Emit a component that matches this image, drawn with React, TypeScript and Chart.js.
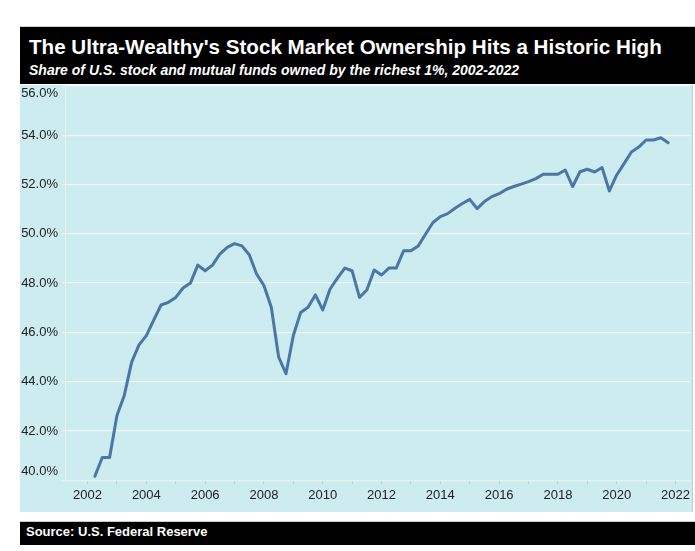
import React, { useEffect, useRef } from "react";
import { Chart, registerables } from "chart.js";

Chart.register(...registerables);

// ---- data ----
const firstQuarter = 2002.25; // decimal year of the first observation
const quarterStep = 0.25;
const ownershipShare: number[] = [
  40.16, 40.92, 40.92, 42.63, 43.44, 44.79, 45.49, 45.87, 46.5, 47.11,
  47.22, 47.42, 47.8, 48.0, 48.73, 48.5, 48.73, 49.18, 49.45, 49.6,
  49.51, 49.15, 48.37, 47.9, 47.02, 45.0, 44.32, 45.87, 46.81, 47.02,
  47.52, 46.91, 47.76, 48.2, 48.61, 48.5, 47.42, 47.72, 48.53, 48.33,
  48.61, 48.61, 49.31, 49.31, 49.51, 49.99, 50.46, 50.7, 50.82, 51.04,
  51.23, 51.4, 51.02, 51.31, 51.51, 51.63, 51.81, 51.92, 52.02, 52.12,
  52.24, 52.42, 52.42, 52.42, 52.59, 51.92, 52.52, 52.62, 52.51, 52.69,
  51.74, 52.39, 52.85, 53.32, 53.52, 53.81, 53.81, 53.9, 53.7,
];
const xTickYears: number[] = [
  2002, 2003, 2004, 2005, 2006, 2007, 2008, 2009, 2010, 2011, 2012,
  2013, 2014, 2015, 2016, 2017, 2018, 2019, 2020, 2021, 2022,
];
const xTickLabels: string[] = [
  "2002", "2004", "2006", "2008", "2010", "2012", "2014", "2016", "2018", "2020", "2022",
];
const yTickValues: number[] = [40, 42, 44, 46, 48, 50, 52, 54, 56];
const yTickLabels: string[] = [
  "40.0%", "42.0%", "44.0%", "46.0%", "48.0%", "50.0%", "52.0%", "54.0%", "56.0%",
];

const TITLE = "The Ultra-Wealthy's Stock Market Ownership Hits a Historic High";
const SUBTITLE = "Share of U.S. stock and mutual funds owned by the richest 1%, 2002-2022";
const SOURCE = "Source: U.S. Federal Reserve";

const FONT = "'Liberation Sans', Arial, Helvetica, sans-serif";
const PANEL_BG = "#cdecef";
const LINE_COLOR = "#4a76a8";

export default function App() {
  const canvasRef = useRef<HTMLCanvasElement | null>(null);

  useEffect(() => {
    const canvas = canvasRef.current;
    if (!canvas) return;
    const points = ownershipShare.map((v, i) => ({ x: firstQuarter + i * quarterStep, y: v }));

    const panelPlugin = {
      id: "panelBg",
      beforeDraw(chart: any) {
        const { ctx, width, height } = chart;
        ctx.save();
        ctx.fillStyle = PANEL_BG;
        ctx.fillRect(0, 0, width, height);
        ctx.fillStyle = "#c9c9c9";
        ctx.fillRect(width - 1, 0, 1, height);
        ctx.restore();
      },
      afterDraw(chart: any) {
        const { ctx, chartArea } = chart;
        const y = chart.scales.y;
        ctx.save();
        ctx.font = `13px ${FONT}`;
        ctx.fillStyle = "#222222";
        ctx.textAlign = "right";
        ctx.textBaseline = "middle";
        yTickValues.forEach((v, i) => {
          let py = y.getPixelForValue(v);
          py = Math.max(chartArea.top + 7.5, Math.min(chartArea.bottom - 8.5, py));
          ctx.fillText(yTickLabels[i], 38, py);
        });
        ctx.restore();
      },
    };

    const chart = new Chart(canvas, {
      type: "line",
      data: {
        datasets: [
          {
            data: points,
            borderColor: LINE_COLOR,
            borderWidth: 3,
            pointRadius: 0,
            tension: 0,
            fill: false,
            borderJoinStyle: "round",
            borderCapStyle: "round",
          },
        ],
      },
      options: {
        animation: false,
        responsive: false,
        maintainAspectRatio: false,
        devicePixelRatio: 1,
        layout: { padding: { top: 1, right: 1, left: 0, bottom: 0 } },
        plugins: { legend: { display: false }, tooltip: { enabled: false }, title: { display: false } },
        scales: {
          x: {
            type: "linear",
            min: 2001.25,
            max: 2022.5,
            afterBuildTicks: (scale: any) => {
              scale.ticks = xTickYears.map((v) => ({ value: v }));
            },
            afterFit: (scale: any) => {
              scale.height = 31.8;
            },
            ticks: {
              autoSkip: false,
              maxRotation: 0,
              includeBounds: false,
              padding: 3,
              color: "#222222",
              font: { family: FONT, size: 13 },
              callback: (v: any) => {
                const s = String(v);
                return xTickLabels.includes(s) ? s : "";
              },
            },
            grid: {
              drawOnChartArea: false,
              drawTicks: true,
              tickLength: 4,
              color: "#bfcfd2",
            },
            border: { display: true, color: "#e6f1f2", width: 1 },
          },
          y: {
            min: 40,
            max: 56,
            afterBuildTicks: (scale: any) => {
              scale.ticks = yTickValues.map((v) => ({ value: v }));
            },
            afterFit: (scale: any) => {
              scale.width = 45.5;
            },
            ticks: { display: false },
            grid: {
              color: "#eef7f8",
              lineWidth: 1.3,
              drawTicks: true,
              tickLength: 3,
            },
            border: { display: true, color: "#e6f1f2", width: 1 },
          },
        },
      },
      plugins: [panelPlugin],
    } as any);

    return () => chart.destroy();
  }, []);

  return (
    <div
      style={{
        position: "absolute",
        left: 0,
        top: 0,
        width: 695,
        height: 551,
        background: "#ffffff",
        overflow: "hidden",
        fontFamily: FONT,
      }}
    >
      <div style={{ position: "absolute", left: 20, top: 26, width: 675, height: 1, background: "#d2d2d2" }} />
      <div style={{ position: "absolute", left: 20, top: 27, width: 675, height: 57, background: "#000000" }} />
      <div
        style={{
          position: "absolute",
          left: 29,
          top: 37.1,
          color: "#ffffff",
          fontWeight: 700,
          fontSize: "20.6px",
          lineHeight: "20.6px",
          whiteSpace: "nowrap",
        }}
      >
        {TITLE}
      </div>
      <div
        style={{
          position: "absolute",
          left: 29,
          top: 62.6,
          color: "#ffffff",
          fontWeight: 700,
          fontStyle: "italic",
          fontSize: "14px",
          lineHeight: "14px",
          whiteSpace: "nowrap",
        }}
      >
        {SUBTITLE}
      </div>
      <canvas
        ref={canvasRef}
        width={673}
        height={427}
        style={{ position: "absolute", left: 20, top: 85, width: 673, height: 427 }}
      />
      <div style={{ position: "absolute", left: 20, top: 521, width: 675, height: 1, background: "#c9c9c9" }} />
      <div style={{ position: "absolute", left: 20, top: 522, width: 675, height: 23, background: "#000000" }} />
      <div
        style={{
          position: "absolute",
          left: 26,
          top: 525,
          color: "#ffffff",
          fontWeight: 700,
          fontSize: "13px",
          lineHeight: "13px",
          whiteSpace: "nowrap",
        }}
      >
        {SOURCE}
      </div>
    </div>
  );
}
